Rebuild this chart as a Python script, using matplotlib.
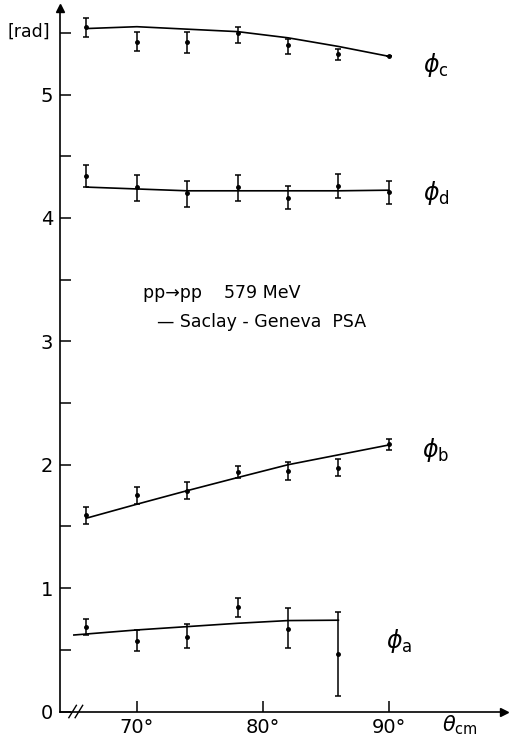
import matplotlib.pyplot as plt
import numpy as np

# scattering angle (deg, c.m.)
theta = [66, 70, 74, 78, 82, 86, 90]

# phase values [rad] with asymmetric error bars (lower, upper)
phi_c = [5.55, 5.43, 5.43, 5.50, 5.40, 5.33, 5.31]
phi_c_lo = [5.47, 5.35, 5.34, 5.42, 5.33, 5.28, 5.31]
phi_c_hi = [5.62, 5.51, 5.51, 5.55, 5.45, 5.37, 5.31]

phi_d = [4.34, 4.25, 4.20, 4.25, 4.16, 4.26, 4.21]
phi_d_lo = [4.25, 4.14, 4.09, 4.14, 4.07, 4.165, 4.11]
phi_d_hi = [4.43, 4.35, 4.30, 4.35, 4.26, 4.36, 4.30]

phi_b = [1.594, 1.756, 1.79, 1.94, 1.95, 1.975, 2.167]
phi_b_lo = [1.52, 1.685, 1.72, 1.89, 1.88, 1.91, 2.12]
phi_b_hi = [1.66, 1.82, 1.86, 1.99, 2.026, 2.045, 2.21]

theta_a = [66, 70, 74, 78, 82, 86]
phi_a = [0.683, 0.569, 0.607, 0.845, 0.667, 0.464]
phi_a_lo = [0.623, 0.493, 0.513, 0.764, 0.513, 0.128]
phi_a_hi = [0.748, 0.661, 0.71, 0.918, 0.837, 0.81]

# Saclay-Geneva PSA curves
psa_theta = [66, 70, 74, 78, 82, 86, 90]
psa_c = [5.535, 5.55, 5.53, 5.51, 5.46, 5.39, 5.31]
psa_d = [4.25, 4.235, 4.22, 4.22, 4.22, 4.22, 4.225]
psa_b = [1.567, 1.68, 1.79, 1.896, 2.0, 2.08, 2.16]
psa_theta_a = [65, 70, 74, 78, 82, 86]
psa_a = [0.62, 0.661, 0.688, 0.715, 0.737, 0.74]

labels = [r"$\phi_{\rm c}$", r"$\phi_{\rm d}$", r"$\phi_{\rm b}$", r"$\phi_{\rm a}$"]
label_pos = [(92.7, 5.24), (92.7, 4.20), (92.6, 2.12), (89.8, 0.57)]


def draw_set(ax, x, y, lo, hi):
    y = np.array(y)
    err = [y - np.array(lo), np.array(hi) - y]
    ax.errorbar(x, y, yerr=err, fmt="o", ms=2.5, color="black",
                elinewidth=1.1, capsize=2.2, capthick=1.1)


fig = plt.figure(figsize=(5.09, 7.38), dpi=100)
ax = fig.add_axes([0.1179, 0.0359, 0.8723, 0.953])

draw_set(ax, theta, phi_c, phi_c_lo, phi_c_hi)
draw_set(ax, theta, phi_d, phi_d_lo, phi_d_hi)
draw_set(ax, theta, phi_b, phi_b_lo, phi_b_hi)
draw_set(ax, theta_a, phi_a, phi_a_lo, phi_a_hi)

ax.plot(psa_theta, psa_c, color="black", lw=1.2)
ax.plot(psa_theta, psa_d, color="black", lw=1.2)
ax.plot(psa_theta, psa_b, color="black", lw=1.2)
ax.plot(psa_theta_a, psa_a, color="black", lw=1.2)

for lab, (lx, ly) in zip(labels, label_pos):
    ax.text(lx, ly, lab, fontsize=17, va="center", ha="left")

ax.text(70.5, 3.39, "pp\u2192pp    579 MeV", fontsize=12.5, va="center")
ax.text(71.6, 3.16, "\u2014 Saclay - Geneva  PSA", fontsize=12.5, va="center")

ax.set_xlim(63.9, 99.15)
ax.set_ylim(0, 5.7)
ax.spines["top"].set_visible(False)
ax.spines["right"].set_visible(False)
for s in ["left", "bottom"]:
    ax.spines[s].set_linewidth(1.2)

ax.set_xticks([70, 80, 90])
ax.set_xticklabels(["70°", "80°", "90°"])
ax.set_yticks([0, 1, 2, 3, 4, 5])
ax.set_yticks([0.5, 1.5, 2.5, 3.5, 4.5, 5.5], minor=True)
ax.tick_params(axis="both", direction="in", length=8, width=1.1, labelsize=14, pad=5)
ax.tick_params(axis="y", which="minor", direction="in", length=8, width=1.1)

# arrows at the ends of the axes
ax.plot(1, 0, ">", color="black", ms=6, transform=ax.transAxes, clip_on=False)
ax.plot(0, 1, "^", color="black", ms=6, transform=ax.transAxes, clip_on=False)

# axis break marks
for dx in (0, 0.5):
    ax.plot([64.6 + dx, 65.2 + dx], [-0.05, 0.05], color="black", lw=1.0, clip_on=False)

ax.annotate("[rad]", xy=(0, 5.51), xycoords=("axes fraction", "data"),
            xytext=(-7, 0), textcoords="offset points", fontsize=12.5,
            ha="right", va="center")
ax.text(95.66, -0.11, r"$\theta_{\rm cm}$", fontsize=15, ha="center", va="center")

plt.savefig("out.png", dpi=100)
plt.close()
